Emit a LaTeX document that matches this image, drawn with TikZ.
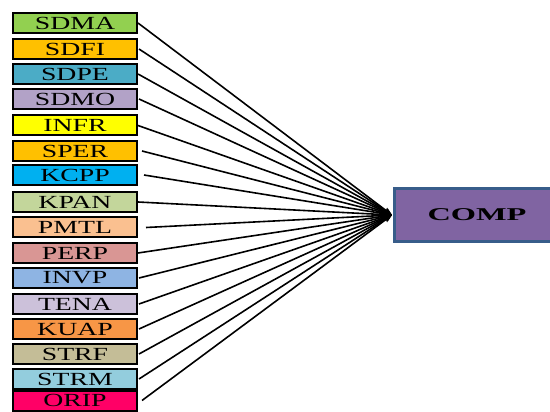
\documentclass[tikz,border=0pt]{standalone}
\usepackage{fontspec}
\usetikzlibrary{arrows.meta}
\newfontfamily\boxfont[FakeStretch=1.5]{Liberation Serif}
\newfontfamily\compfont[FakeStretch=1.8]{Liberation Serif}
\definecolor{cSDMA}{HTML}{92D050}
\definecolor{cSDFI}{HTML}{FFC000}
\definecolor{cSDPE}{HTML}{4BACC6}
\definecolor{cSDMO}{HTML}{B2A2C7}
\definecolor{cINFR}{HTML}{FFFF00}
\definecolor{cSPER}{HTML}{FFC000}
\definecolor{cKCPP}{HTML}{00B0F0}
\definecolor{cKPAN}{HTML}{C3D69B}
\definecolor{cPMTL}{HTML}{FAC090}
\definecolor{cPERP}{HTML}{D99694}
\definecolor{cINVP}{HTML}{8EB4E3}
\definecolor{cTENA}{HTML}{CCC1DA}
\definecolor{cKUAP}{HTML}{F79646}
\definecolor{cSTRF}{HTML}{C4BD97}
\definecolor{cSTRM}{HTML}{93CDDD}
\definecolor{cORIP}{HTML}{FF0066}
\definecolor{compfill}{HTML}{8064A2}
\definecolor{compedge}{HTML}{385D8A}
\tikzset{
  varbox/.style={draw=black, line width=2pt, minimum width=124pt, minimum height=20pt,
    inner sep=0pt, font=\boxfont\fontsize{18.5}{18.5}\selectfont},
  compbox/.style={draw=compedge, fill=compfill, line width=2.5pt, minimum width=165pt,
    minimum height=53pt, inner sep=0pt, font=\compfont\bfseries\fontsize{18}{18}\selectfont},
  link/.style={line width=1.6pt, -{Stealth[length=8pt,width=6pt]}}
}
\begin{document}
\begin{tikzpicture}[x=1pt,y=-1pt]
\useasboundingbox (0,0) rectangle (550,412);
\clip (0,0) rectangle (550,412);
% outcome construct
\node[compbox] (COMP) at (477,215) {COMP};
\coordinate (hub) at (392,215);
% indicator constructs
\foreach \name/\ypos/\gap in {SDMA/23/0, SDFI/49/1, SDPE/74/0, SDMO/99/1, INFR/125.5/0,
    SPER/151/4, KCPP/175/6, KPAN/202/0, PMTL/227.5/8, PERP/253/0, INVP/278/1,
    TENA/304/1, KUAP/329/1, STRF/354/1, STRM/379/1, ORIP/400.5/4} {
  \node[varbox, fill=c\name] (\name) at (75,\ypos) {\name};
  \draw[link] ([xshift=\gap pt]\name.east) -- (hub);
}
\end{tikzpicture}
\end{document}
